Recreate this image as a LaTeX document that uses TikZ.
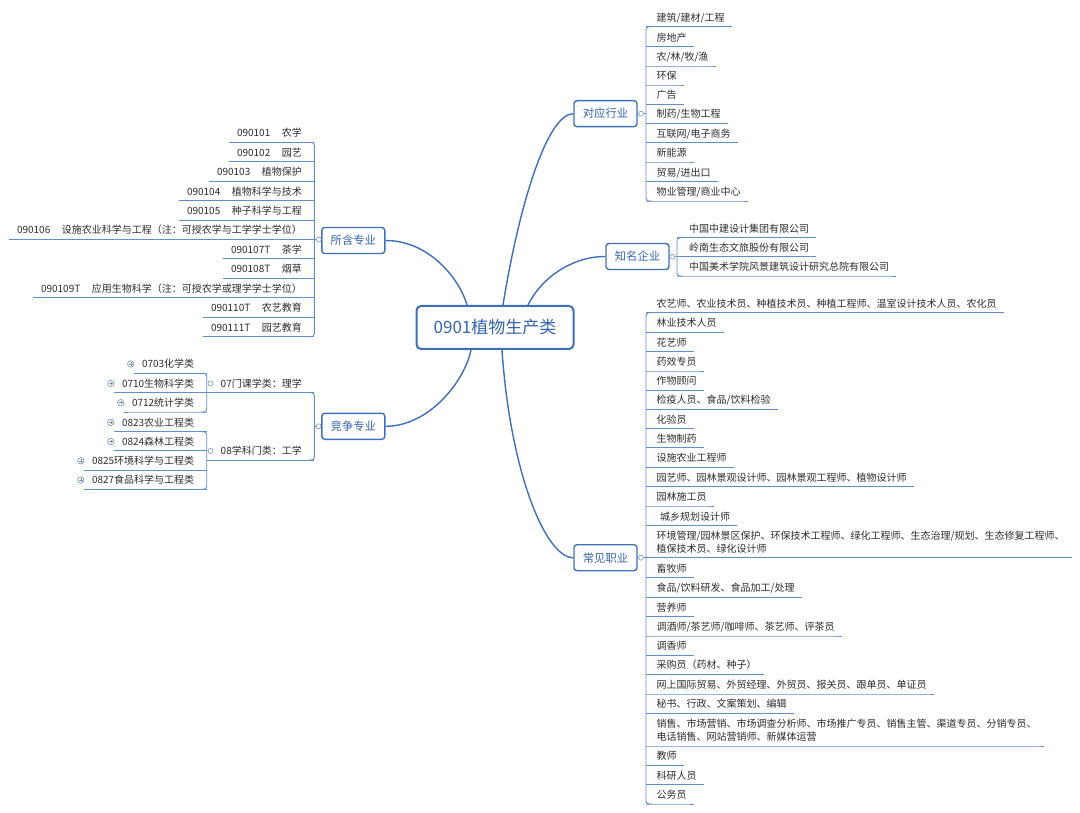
\documentclass[tikz,border=0pt]{standalone}
\usepackage{fontspec}
\setmainfont{Noto Sans CJK SC}
\usetikzlibrary{calc}
\definecolor{lineblue}{RGB}{62,112,186}
\definecolor{ulblue}{RGB}{98,142,204}
\definecolor{txt}{RGB}{45,45,45}
\definecolor{topictxt}{RGB}{52,100,178}
\definecolor{markc}{RGB}{125,148,185}
\tikzset{
  leaf/.style={inner sep=0pt, text=txt, font=\fontsize{10}{12.6}\selectfont},
  uline/.style={draw=ulblue, line width=0.9pt},
  branch/.style={draw=lineblue, line width=1.4pt},
  topicbox/.style={draw=lineblue, line width=1.4pt, rounded corners=3pt, fill=white, text=topictxt,
    font=\fontsize{11.3}{13}\selectfont, minimum width=63pt, minimum height=26pt, inner sep=0pt},
  centralbox/.style={draw=lineblue, line width=2pt, rounded corners=4.5pt, fill=white, text=topictxt,
    font=\fontsize{17}{20}\selectfont, minimum width=157pt, minimum height=43pt, inner sep=0pt},
  knob/.style={circle, draw=markc, fill=white, line width=0.6pt, minimum size=5pt, inner sep=0pt},
  plusknob/.style={circle, draw=markc, fill=white, line width=0.6pt, minimum size=6.5pt, inner sep=0pt,
    path picture={\draw[markc, line width=0.5pt]
      ([xshift=-1.7pt]path picture bounding box.center) -- ([xshift=1.7pt]path picture bounding box.center)
      ([yshift=-1.7pt]path picture bounding box.center) -- ([yshift=1.7pt]path picture bounding box.center);}},
}
\def\roff{10.5}
\newcommand\rleaf[4]{%
  \node[leaf, anchor=base west] (#1) at ({#2+\roff},{#3-5.5}) {#4};
  \draw[uline] (#2,#3) -- (#1.east |- 0,#3) -- ++(7,0);}
\newcommand\lleaf[4]{%
  \node[leaf, anchor=base east] (#1) at ({#2-12.3},{#3-5.5}) {#4};
  \draw[uline] (#2,#3) -- (#1.west |- 0,#3) -- ++(-7.7,0);}
\newcommand\rbracket[3]{\draw[uline, rounded corners=3pt] ({#1+6},#2) -- (#1,#2) -- (#1,#3) -- ({#1+6},#3);}
\newcommand\lbracket[3]{\draw[uline, rounded corners=3pt] ({#1-6},#2) -- (#1,#2) -- (#1,#3) -- ({#1-6},#3);}
\newcommand\twol[2]{\begin{tabular}[b]{@{}l@{}}#1\\#2\end{tabular}}
\newcommand\gapp{\hspace{11.5pt}}
\begin{document}
\begin{tikzpicture}[x=1pt,y=-1pt]
\useasboundingbox (0,0) rectangle (1080,813);

% central and main topics
\node[centralbox] (c) at (495,327.5) {0901植物生产类};
\node[topicbox] (dy) at (605.5,113.7) {对应行业};
\node[topicbox] (zm) at (637.5,256.5) {知名企业};
\node[topicbox] (cj) at (605.5,557.7) {常见职业};
\node[topicbox] (sh) at (353.3,240.5) {所含专业};
\node[topicbox] (jz) at (353.3,426.3) {竞争专业};

% branches
\draw[branch] (dy.west) .. controls (548,113.7) and (520,200) .. ([xshift=8pt]c.north);
\draw[branch] (zm.west) .. controls (570,256.5) and (540,280) .. ([xshift=33pt]c.north);
\draw[branch] (sh.east) .. controls (430,240.5) and (460,280) .. ([xshift=-28pt]c.north);
\draw[branch] (jz.east) .. controls (430,426.3) and (465,380) .. ([xshift=-24pt]c.south);
\draw[branch] ([xshift=7pt]c.south) .. controls (510,470) and (545,557.7) .. (cj.west);

% ---------- 对应行业 ----------
\draw[uline] (dy.east) -- (646,113.7);
\rbracket{646}{26.7}{201}
\rleaf{d1}{646}{26.7}{建筑/建材/工程}
\rleaf{d2}{646}{46.7}{房地产}
\rleaf{d3}{646}{66}{农/林/牧/渔}
\rleaf{d4}{646}{85}{环保}
\rleaf{d5}{646}{104.2}{广告}
\rleaf{d6}{646}{123.3}{制药/生物工程}
\rleaf{d7}{646}{142.8}{互联网/电子商务}
\rleaf{d8}{646}{162}{新能源}
\rleaf{d9}{646}{181.6}{贸易/进出口}
\rleaf{d10}{646}{201}{物业管理/商业中心}
\node[knob] (kdy) at (641,113.7) {};

% ---------- 知名企业 ----------
\def\roff{12}
\draw[uline] (zm.east) -- (677,256.8);
\rbracket{677}{237.7}{276}
\rleaf{z1}{677}{237.7}{中国中建设计集团有限公司}
\rleaf{z2}{677}{256.8}{岭南生态文旅股份有限公司}
\rleaf{z3}{677}{276}{中国美术学院风景建筑设计研究总院有限公司}
\node[knob] (kzm) at (672.3,256.8) {};

% ---------- 常见职业 ----------
\def\roff{10.5}
\draw[uline] (cj.east) -- (646,557.7);
\rbracket{646}{312.7}{804}
\rleaf{j1}{646}{312.7}{农艺师、农业技术员、种植技术员、种植工程师、温室设计技术人员、农化员}
\rleaf{j2}{646}{332.2}{林业技术人员}
\rleaf{j3}{646}{351.6}{花艺师}
\rleaf{j4}{646}{371}{药效专员}
\rleaf{j5}{646}{390.2}{作物顾问}
\rleaf{j6}{646}{409.4}{检疫人员、食品/饮料检验}
\rleaf{j7}{646}{428.5}{化验员}
\rleaf{j8}{646}{447.6}{生物制药}
\rleaf{j9}{646}{467.2}{设施农业工程师}
\rleaf{j10}{646}{486.6}{园艺师、园林景观设计师、园林景观工程师、植物设计师}
\rleaf{j11}{646}{506}{园林施工员}
\rleaf{j12}{646}{525.6}{\hspace{3.5pt}城乡规划设计师}
\rleaf{j13}{646}{557.7}{\twol{环境管理/园林景区保护、环保技术工程师、绿化工程师、生态治理/规划、生态修复工程师、}{植保技术员、绿化设计师}}
\rleaf{j14}{646}{577.7}{畜牧师}
\rleaf{j15}{646}{597.2}{食品/饮料研发、食品加工/处理}
\rleaf{j16}{646}{616.6}{营养师}
\rleaf{j17}{646}{636}{调酒师/茶艺师/咖啡师、茶艺师、评茶员}
\rleaf{j18}{646}{655.2}{调香师}
\rleaf{j19}{646}{674.4}{采购员（药材、种子）}
\rleaf{j20}{646}{694}{网上国际贸易、外贸经理、外贸员、报关员、跟单员、单证员}
\rleaf{j21}{646}{713.4}{秘书、行政、文案策划、编辑}
\rleaf{j22}{646}{746}{\twol{销售、市场营销、市场调查分析师、市场推广专员、销售主管、渠道专员、分销专员、}{电话销售、网站营销师、新媒体运营}}
\rleaf{j23}{646}{765.2}{教师}
\rleaf{j24}{646}{784.5}{科研人员}
\rleaf{j25}{646}{804}{公务员}
\node[knob] (kcj) at (641,557.7) {};

% ---------- 所含专业 ----------
\draw[uline] (sh.west) -- (314.3,239.5);
\lbracket{314.3}{142.3}{336.7}
\lleaf{s1}{314.3}{142.3}{090101\gapp 农学}
\lleaf{s2}{314.3}{161.7}{090102\gapp 园艺}
\lleaf{s3}{314.3}{181.2}{090103\gapp 植物保护}
\lleaf{s4}{314.3}{200.6}{090104\gapp 植物科学与技术}
\lleaf{s5}{314.3}{220.1}{090105\gapp 种子科学与工程}
\lleaf{s6}{314.3}{239.5}{090106\gapp 设施农业科学与工程（注：可授农学与工学学士学位）}
\lleaf{s7}{314.3}{258.9}{090107T\gapp 茶学}
\lleaf{s8}{314.3}{278.4}{090108T\gapp 烟草}
\lleaf{s9}{314.3}{297.8}{090109T\gapp 应用生物科学（注：可授农学或理学学士学位）}
\lleaf{s10}{314.3}{317.3}{090110T\gapp 农艺教育}
\lleaf{s11}{314.3}{336.7}{090111T\gapp 园艺教育}
\node[knob] (ksh) at (318.8,239.5) {};

% ---------- 竞争专业 ----------
\draw[uline] (jz.west) -- (314.3,426.3);
\lbracket{314.3}{392.7}{460}
\node[leaf, anchor=base east] (g07) at (302,{392.7-5.5}) {07门课学类：理学};
\draw[uline] (314.3,392.7) -- (206.7,392.7);
\node[leaf, anchor=base east] (g08) at (302,{460-5.5}) {08学科门类：工学};
\draw[uline] (314.3,460) -- (206.7,460);
\node[knob] (kjz) at (318.6,426.3) {};
\node[knob] (k07) at (210.5,383.3) {};
\node[knob] (k08) at (210.5,451) {};

\lbracket{206.7}{373.3}{412}
\lleaf{a1}{206.7}{373.3}{0703化学类}
\lleaf{a2}{206.7}{392.7}{0710生物科学类}
\lleaf{a3}{206.7}{412}{0712统计学类}
\lbracket{206.7}{431.7}{489.3}
\lleaf{b1}{206.7}{431.7}{0823农业工程类}
\lleaf{b2}{206.7}{450.9}{0824森林工程类}
\lleaf{b3}{206.7}{470.1}{0825环境科学与工程类}
\lleaf{b4}{206.7}{489.3}{0827食品科学与工程类}
\foreach \n in {a1,a2,a3,b1,b2,b3,b4}
  \node[plusknob] (p\n) at ([xshift=-11pt,yshift=3.8pt]\n.base west) {};
\end{tikzpicture}
\end{document}
